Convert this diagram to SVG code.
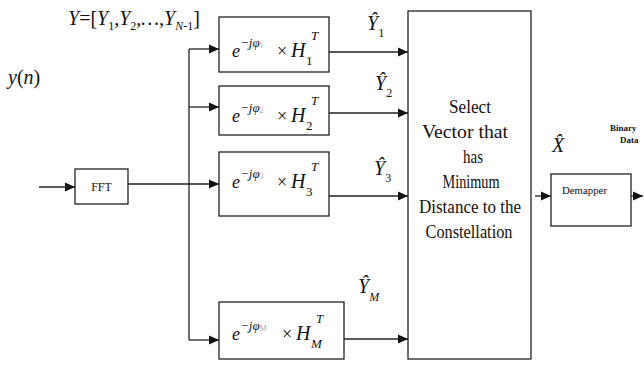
<svg xmlns="http://www.w3.org/2000/svg" width="644" height="370" viewBox="0 0 644 370">
<defs>
<marker id="ah" viewBox="0 0 10 10" refX="10" refY="5" markerWidth="10" markerHeight="10" markerUnits="userSpaceOnUse" orient="auto">
<path d="M0,0.5 L10,5 L0,9.5 z" fill="#111"/>
</marker>
</defs>
<style>
.box{fill:#fff;stroke:#222;stroke-width:1.3}
.ln{fill:none;stroke:#222;stroke-width:1.3}
.arr{fill:none;stroke:#222;stroke-width:1.3;marker-end:url(#ah)}
.m{font-family:'Liberation Serif','Times New Roman','DejaVu Serif',serif;font-style:italic;fill:#111}
.t{font-family:'Liberation Serif','Times New Roman','DejaVu Serif',serif;font-style:normal;fill:#111}
.g{fill:#aaa;font-style:normal}
.c{text-anchor:middle}
</style>
<rect width="644" height="370" fill="#fff"/>

<g id="connectors">
<path class="arr" d="M39,187 H75"/>
<path class="arr" d="M128,184 H219"/>
<path class="ln" d="M189,49 V340"/>
<path class="arr" d="M189,49 H219"/>
<path class="arr" d="M189,107 H219"/>
<path class="arr" d="M189,340 H219"/>
<path class="arr" d="M329,52 H408"/>
<path class="arr" d="M329,113 H408"/>
<path class="arr" d="M329,196 H408"/>
<path class="arr" d="M344,339 H408"/>
<path class="arr" d="M535,196 H551"/>
<path class="arr" d="M631,196 H643"/>
</g>

<g id="label-Y">
<text class="m" x="68" y="25" font-size="20">Y<tspan class="t">=[</tspan>Y<tspan class="t" font-size="12" dy="5">1</tspan><tspan dy="-5">,Y</tspan><tspan class="t" font-size="12" dy="5">2</tspan><tspan dy="-5">,…,Y</tspan><tspan font-size="12" dy="5">N</tspan><tspan class="t" font-size="12">-1</tspan><tspan class="t" dy="-5">]</tspan></text>
</g>
<g id="label-yn">
<text class="m" x="8" y="84" font-size="20">y<tspan class="t">(</tspan>n<tspan class="t">)</tspan></text>
</g>

<g id="fft">
<rect class="box" x="75" y="169" width="53" height="35"/>
<text class="t c" x="101.5" y="191" font-size="12">FFT</text>
</g>

<g id="h1">
<rect class="box" x="219" y="17" width="110" height="55"/>
<text class="m" x="232" y="57" font-size="18">e<tspan font-size="13" dy="-10">−jφ</tspan><tspan class="g" font-size="8" dy="1">1</tspan><tspan class="t" font-size="18" x="277" dy="9">×</tspan><tspan font-size="20" x="291">H</tspan></text>
<text class="m" x="311" y="40" font-size="13">T</text>
<text class="t" x="306" y="65" font-size="13">1</text>
</g>

<g id="h2">
<rect class="box" x="219" y="86" width="110" height="49"/>
<text class="m" x="232" y="122" font-size="18">e<tspan font-size="13" dy="-10">−jφ</tspan><tspan class="g" font-size="8" dy="1">2</tspan><tspan class="t" font-size="18" x="277" dy="9">×</tspan><tspan font-size="20" x="291">H</tspan></text>
<text class="m" x="311" y="105" font-size="13">T</text>
<text class="t" x="306" y="130" font-size="13">2</text>
</g>

<g id="h3">
<rect class="box" x="219" y="152" width="110" height="64"/>
<text class="m" x="232" y="188" font-size="18">e<tspan font-size="13" dy="-10">−jφ</tspan><tspan class="g" font-size="8" dy="1">3</tspan><tspan class="t" font-size="18" x="277" dy="9">×</tspan><tspan font-size="20" x="291">H</tspan></text>
<text class="m" x="311" y="171" font-size="13">T</text>
<text class="t" x="306" y="196" font-size="13">3</text>
</g>

<g id="hm">
<rect class="box" x="219" y="302" width="125" height="57"/>
<text class="m" x="232" y="340" font-size="18">e<tspan font-size="13" dy="-10">−jφ</tspan><tspan class="g" font-size="8" dy="1">M</tspan><tspan class="t" font-size="18" x="282" dy="9">×</tspan><tspan font-size="20" x="296">H</tspan></text>
<text class="m" x="316" y="323" font-size="13">T</text>
<text class="m" x="311" y="348" font-size="13">M</text>
</g>

<g id="yhat1">
<text class="m" x="367" y="30" font-size="20">Y&#x302;<tspan class="t" font-size="12" dy="7">1</tspan></text>
</g>
<g id="yhat2">
<text class="m" x="375" y="90" font-size="20">Y&#x302;<tspan class="t" font-size="12" dy="7">2</tspan></text>
</g>
<g id="yhat3">
<text class="m" x="374" y="175" font-size="20">Y&#x302;<tspan class="t" font-size="12" dy="7">3</tspan></text>
</g>
<g id="yhatm">
<text class="m" x="358" y="293" font-size="20">Y&#x302;<tspan font-size="12" dy="8">M</tspan></text>
</g>

<g id="select">
<rect class="box" x="408" y="11" width="123" height="348"/>
<text class="t c" x="470" y="113" font-size="18" textLength="42" lengthAdjust="spacingAndGlyphs">Select</text>
<text class="t c" x="465" y="138" font-size="18" textLength="86" lengthAdjust="spacingAndGlyphs">Vector that</text>
<text class="t c" x="473" y="163" font-size="18" textLength="20" lengthAdjust="spacingAndGlyphs">has</text>
<text class="t c" x="471" y="188" font-size="18" textLength="57" lengthAdjust="spacingAndGlyphs">Minimum</text>
<text class="t c" x="470" y="213" font-size="18" textLength="102" lengthAdjust="spacingAndGlyphs">Distance to the</text>
<text class="t c" x="469" y="238" font-size="18" textLength="87" lengthAdjust="spacingAndGlyphs">Constellation</text>
</g>

<g id="xhat">
<text class="m" x="552" y="152" font-size="20">X&#x302;</text>
</g>

<g id="binary-data">
<text class="t" x="610" y="131" font-size="9" font-weight="bold">Binary</text>
<text class="t" x="620" y="143" font-size="9" font-weight="bold">Data</text>
</g>

<g id="demapper">
<rect class="box" x="551" y="174" width="80" height="52"/>
<text class="t" x="562" y="194" font-size="10" textLength="45" lengthAdjust="spacingAndGlyphs">Demapper</text>
</g>
</svg>
